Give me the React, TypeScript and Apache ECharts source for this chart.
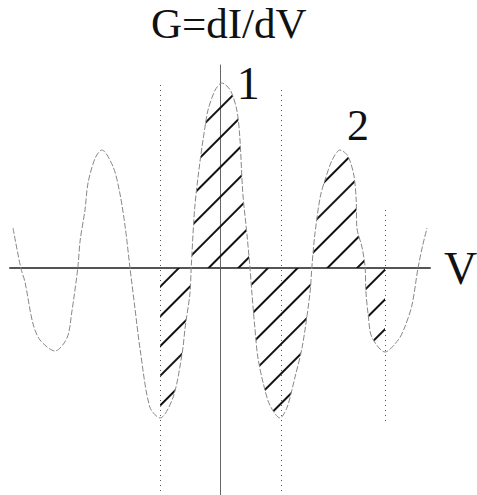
import React, { useEffect, useRef } from "react";
import * as echarts from "echarts";

// Curve G = dI/dV (V in arbitrary units, G in arbitrary units)
const voltage = [
  -3.45, -3.32, -3.25, -3.12, -3.0, -2.75, -2.55, -2.47, -2.37, -2.33, -2.25, -2.2, -2.08, -1.97,
  -1.78, -1.67, -1.58, -1.5, -1.42, -1.33, -1.17, -1.0, -0.78, -0.63, -0.58, -0.5, -0.48, -0.42,
  -0.33, -0.25, -0.2, -0.08, 0.03, 0.17, 0.28, 0.33, 0.38, 0.45, 0.5, 0.53, 0.58, 0.63, 0.72,
  0.83, 1.0, 1.12, 1.25, 1.37, 1.5, 1.53, 1.58, 1.67, 1.75, 1.87, 2.0, 2.13, 2.23, 2.27, 2.28,
  2.37, 2.42, 2.43, 2.47, 2.53, 2.75, 2.97, 3.08, 3.2, 3.3, 3.38, 3.45,
];
const conductance = [
  0.4, 0, -0.14, -0.55, -0.72, -0.83, -0.7, -0.44, 0, 0.28, 0.58, 0.85, 1.1, 1.18,
  1.01, 0.75, 0.41, 0, -0.39, -0.82, -1.39, -1.5, -1.29, -0.85, -0.59, -0.25, 0, 0.61,
  1.08, 1.41, 1.58, 1.78, 1.85, 1.78, 1.58, 1.31, 0.75, 0.33, 0, -0.24, -0.59, -0.89, -1.15,
  -1.37, -1.5, -1.39, -1.09, -0.79, -0.25, 0, 0.33, 0.71, 0.88, 1.08, 1.18, 1.12, 0.93, 0.68, 0.41,
  0.2, 0, -0.22, -0.47, -0.69, -0.84, -0.72, -0.59, -0.37, 0, 0.23, 0.4,
];
// Hatched range: from the first deep minimum to the last shallow minimum
const hatchFrom = -1.0;
const hatchTo = 2.75;

// Dotted vertical guide lines
const guideV = [-1.0, 1.02, 2.75];
const guideTop = [1.83, 1.78, 0.58];
const guideBottom = [-2.27, -2.27, -1.54];

const titleText = "G=dI/dV";
const axisName = "V";
const peakLabels = ["1", "2"];

export default function App() {
  const ref = useRef<HTMLDivElement>(null);
  useEffect(() => {
    if (!ref.current) return;
    const chart = echarts.init(ref.current, null, { renderer: "svg" });
    const curve = voltage.map((v, i) => [v, conductance[i]]);
    const hatched = curve.filter((p) => p[0] >= hatchFrom && p[0] <= hatchTo);
    const serif = "'Liberation Serif', 'DejaVu Serif', serif";
    chart.setOption({
      animation: false,
      backgroundColor: "#fff",
      grid: { left: 10, right: 47, top: 65, bottom: 0 },
      xAxis: {
        type: "value",
        min: -3.5,
        max: 3.5,
        axisLine: { onZero: true, lineStyle: { color: "#555", width: 2 } },
        axisTick: { show: false },
        axisLabel: { show: false },
        splitLine: { show: false },
      },
      yAxis: {
        type: "value",
        min: -2.27,
        max: 2.03,
        axisLine: { show: true, onZero: true, lineStyle: { color: "#666", width: 1 } },
        axisTick: { show: false },
        axisLabel: { show: false },
        splitLine: { show: false },
      },
      series: [
        {
          type: "line",
          data: hatched,
          showSymbol: false,
          smooth: 0.3,
          lineStyle: { width: 0, opacity: 0 },
          areaStyle: { color: "rgba(0,0,0,0)", opacity: 1 },
          itemStyle: {
            decal: {
              symbol: "rect",
              symbolSize: 1,
              symbolKeepAspect: false,
              color: "#111",
              backgroundColor: "rgba(0,0,0,0)",
              dashArrayX: [1, 0],
              dashArrayY: [2, 19],
              rotation: -Math.PI / 4,
            },
          },
          silent: true,
          z: 1,
        },
        {
          type: "line",
          data: curve,
          showSymbol: false,
          smooth: 0.3,
          lineStyle: { color: "#888", width: 1, type: [6, 2] },
          silent: true,
          z: 2,
          markLine: {
            silent: true,
            symbol: ["none", "none"],
            label: { show: false },
            lineStyle: { type: [1, 4], color: "#555", width: 1 },
            data: guideV.map((v, i) => [{ coord: [v, guideTop[i]] }, { coord: [v, guideBottom[i]] }]),
          },
        },
      ],
    });
    // Text labels placed through the chart's own coordinate conversion
    const p1 = chart.convertToPixel({ gridIndex: 0 }, [0.47, 1.85]) as number[];
    const p2 = chart.convertToPixel({ gridIndex: 0 }, [2.3, 1.43]) as number[];
    const pv = chart.convertToPixel({ gridIndex: 0 }, [3.5, 0]) as number[];
    chart.setOption({
      graphic: [
        {
          type: "text",
          left: 231 - 80,
          top: 24 - 22,
          style: { text: titleText, font: `43px ${serif}`, fill: "#111", width: 160, align: "center" },
        },
        {
          type: "text",
          x: p1[0],
          y: p1[1],
          style: { text: peakLabels[0], font: `46px ${serif}`, fill: "#111", align: "center", verticalAlign: "middle" },
        },
        {
          type: "text",
          x: p2[0],
          y: p2[1],
          style: { text: peakLabels[1], font: `44px ${serif}`, fill: "#111", align: "center", verticalAlign: "middle" },
        },
        {
          type: "text",
          x: pv[0] + 14,
          y: pv[1],
          style: { text: axisName, font: `46px ${serif}`, fill: "#111", align: "left", verticalAlign: "middle" },
        },
      ],
    });
    return () => chart.dispose();
  }, []);
  return <div ref={ref} style={{ position: "fixed", left: 0, top: 0, width: 477, height: 495, background: "#fff" }} />;
}
